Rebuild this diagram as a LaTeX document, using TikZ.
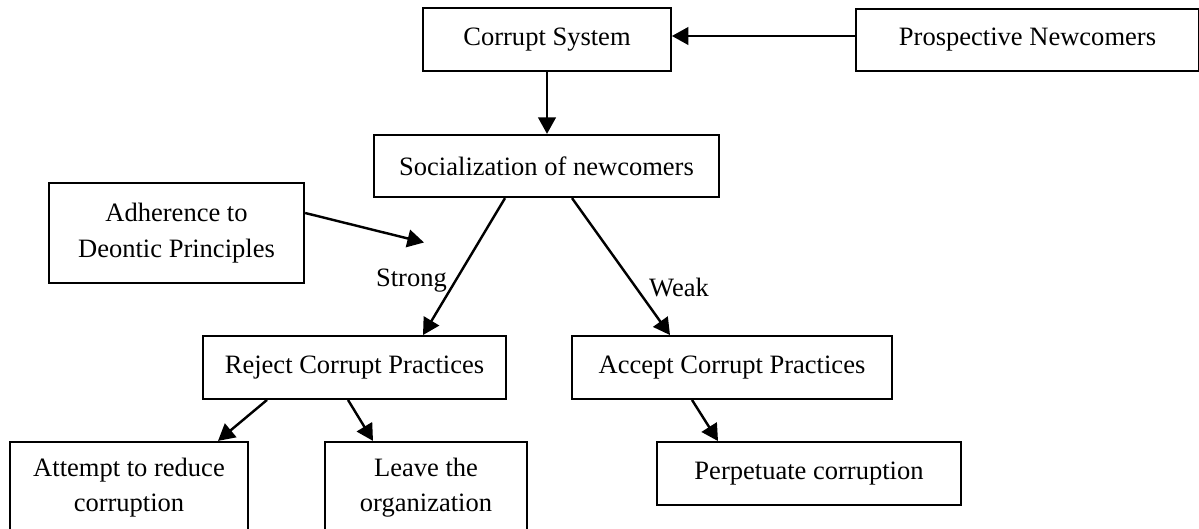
\documentclass[tikz,border=0pt]{standalone}
\usepackage{fontspec}
\setmainfont{Liberation Serif}
\usetikzlibrary{arrows.meta,calc,positioning}
\definecolor{Ink}{HTML}{000000}
\tikzset{
  stage/.style={
    draw=Ink, line width=0.9pt, fill=white, inner sep=0pt,
    minimum height=1.0cm, align=center, font=\fontsize{12}{16}\selectfont
  },
  flow/.style={-{Triangle[length=7.5pt,width=8pt]}, line width=1.1pt, draw=Ink},
  tag/.style={font=\fontsize{12}{16}\selectfont, inner sep=3.5pt}
}

\begin{document}
\begin{tikzpicture}[x=0.0159cm,y=-0.0159cm]
  \useasboundingbox (0,0) rectangle (1199,529);
  \clip (0,0) rectangle (1199,529);
  % top row
  \node[stage,minimum width=3.94cm] (sys) at (547,39.5) {Corrupt System};
  \node[stage,minimum width=5.45cm,minimum height=0.99cm] (pros) at (1027.5,40) {Prospective Newcomers};
  \node[stage,minimum width=5.49cm,minimum height=0.99cm] (soc) at (546.5,166) {Socialization of newcomers};
  \node[stage,minimum width=4.06cm,minimum height=1.59cm] (adh) at (176.5,233) {Adherence to\\Deontic Principles};
  \coordinate (adhtip) at (424,242.5);
  % middle row
  \node[stage,minimum width=4.82cm] (rej) at (354.5,367.5) {Reject Corrupt Practices};
  \node[stage,minimum width=5.09cm] (acc) at (732,367.5) {Accept Corrupt Practices};
  % bottom row
  \node[stage,minimum width=3.78cm,minimum height=1.45cm] (att) at (129,487.5) {Attempt to reduce\\corruption};
  \node[stage,minimum width=3.21cm,minimum height=1.45cm] (lea) at (426,487.5) {Leave the\\organization};
  \node[stage,minimum width=4.83cm] (per) at (809,473.5) {Perpetuate corruption};

  \draw[flow] ($(pros.west)+(0,-4)$) -- ($(sys.east)+(0,-3.5)$);
  \draw[flow] (sys.south) -- (sys.south |- soc.north);
  \draw[flow] ($(soc.south)+(-41.5,0)$) -- node[tag,pos=0.6,left] (strong) {Strong} ($(rej.north)+(68.5,0)$);
  \draw[flow] ($(soc.south)+(25.5,0)$) -- node[tag,pos=0.65,right,xshift=2pt] (weak) {Weak} ($(acc.north)+(-62,0)$);
  \draw[flow] ($(adh.east)+(0,-20)$) -- (adhtip);
  \draw[flow] ($(rej.south)+(-87.5,0)$) -- ($(att.north)+(89,0)$);
  \draw[flow] ($(rej.south)+(-6.5,0)$) -- ($(lea.north)+(-53,0)$);
  \draw[flow] ($(acc.south)+(-40,0)$) -- ($(per.north)+(-91,0)$);
\end{tikzpicture}
\end{document}
